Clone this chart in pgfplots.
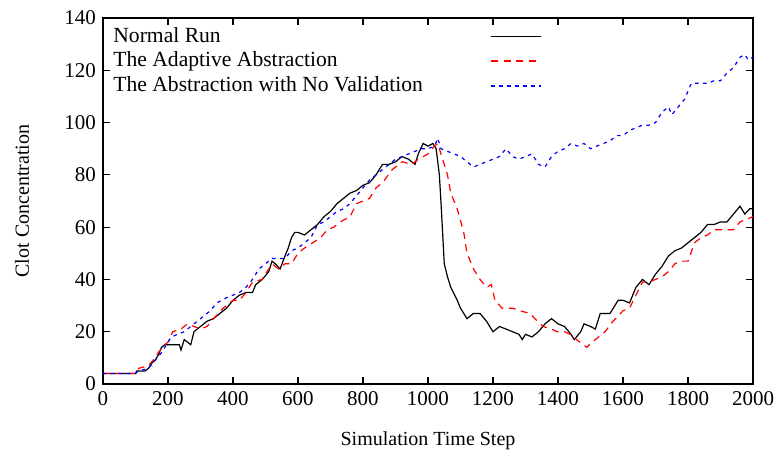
\documentclass[border=0pt]{standalone}
\usepackage{pgfplots}
\pgfplotsset{compat=1.18}
\usepackage{fontspec}
\setmainfont{Liberation Serif}
\definecolor{gpred}{RGB}{255,0,0}
\definecolor{gpblue}{RGB}{0,0,255}
\begin{document}
\begin{tikzpicture}
\path[use as bounding box] (-51.5pt,-37pt) rectangle (337.5pt,192pt);
\begin{axis}[
  scale only axis,
  width=325pt, height=183pt,
  at={(0pt,0pt)}, anchor=south west,
  xmin=0, xmax=2000, ymin=0, ymax=140,
  xtick={0,200,...,2000}, ytick={0,20,...,140},
  tick align=inside, major tick length=3.5pt,
  axis line style={line width=0.8pt},
  every tick/.style={black, line width=0.6pt},
  /pgf/number format/assume math mode=true,
  /pgf/number format/1000 sep={},
  tick label style={font=\fontsize{10.5}{12}\selectfont},
  xlabel={Simulation Time Step}, ylabel={Clot Concentration},
  label style={font=\fontsize{10.5}{12}\selectfont},
  every axis x label/.style={at={(axis description cs:0.5,-0.156)}, anchor=center},
  every axis y label/.style={at={(axis description cs:-0.1246,0.5)}, rotate=90, anchor=center},
  legend plot pos=right,
  legend cell align=left,
  legend style={at={(rel axis cs:0,1)}, anchor=north west, xshift=5pt, yshift=-3.5pt,
    draw=none, fill=none, inner sep=0pt, column sep=0pt, row sep=0.25pt,
    font=\fontsize{10.8}{13}\selectfont,
    nodes={inner xsep=0pt, inner ysep=1pt, text height=7.5pt, text depth=2.5pt}},
  legend image code/.code={\draw[#1] (0pt,0.25pt) -- (25pt,0.25pt);},
]
\addlegendimage{black, line width=0.6pt}
\addlegendentry{\makebox[188.5pt][l]{Normal Run}}
\addlegendimage{gpred, line width=1.1pt, dash pattern=on 3.5pt off 2.75pt}
\addlegendentry{\makebox[188.5pt][l]{The Adaptive Abstraction}}
\addlegendimage{gpblue, line width=0.7pt, dash pattern=on 1.75pt off 2.25pt}
\addlegendentry{\makebox[188.5pt][l]{The Abstraction with No Validation}}
\addplot[forget plot, black, line width=0.6pt] coordinates {
(0,4) (100,4) (104,5) (130,5) (140,6) (150,8) (160,9) (170,11) (180,14) (190,15)
(200,15) (220,15) (235,15) (240,13) (250,17) (260,16) (270,15) (280,20) (290,21) (300,22)
(320,24) (340,25) (360,27) (380,29) (400,32) (420,34) (440,35) (460,35) (470,38) (490,40)
(510,43) (520,47) (530,46) (545,44) (560,49) (570,52) (580,56) (590,58) (600,58) (620,57)
(640,59) (660,61) (680,64) (700,66) (720,69) (740,71) (760,73) (780,74) (800,76) (820,77)
(840,80) (860,84) (880,84) (900,85) (920,87) (940,86) (960,84) (970,88) (985,92) (1000,91)
(1015,92) (1025,90) (1035,80) (1042,65) (1050,46) (1060,41) (1070,37) (1090,32) (1100,29) (1120,25)
(1140,27) (1160,27) (1180,24) (1200,20) (1220,22) (1240,21) (1260,20) (1280,19) (1290,17) (1300,19)
(1320,18) (1340,20) (1360,23) (1380,25) (1400,23) (1420,22) (1440,19) (1450,17) (1470,20) (1480,23)
(1500,22) (1515,21) (1530,27) (1560,27) (1585,32) (1600,32) (1620,31) (1640,37) (1660,40) (1680,38)
(1700,42) (1720,45) (1740,49) (1760,51) (1780,52) (1800,54) (1820,56) (1840,58) (1860,61) (1880,61)
(1900,62) (1920,62) (1940,65) (1960,68) (1975,65) (1990,67) (2000,67)
};
\addplot[forget plot, gpred, line width=0.6pt, dash pattern=on 3.5pt off 2.75pt] coordinates {
(0,4) (100,4) (110,6) (140,7) (160,10) (170,12) (190,15) (200,16) (215,20) (240,21)
(260,23) (280,22) (300,21) (320,22) (340,25) (370,29) (400,32) (420,32) (440,35) (460,39)
(490,40) (520,46) (540,44) (560,46) (580,46) (600,50) (620,52) (645,54) (670,56) (690,59)
(710,60) (730,62) (760,64) (780,69) (800,70) (820,71) (840,75) (860,77) (890,82) (920,85)
(950,84) (970,86) (1000,88) (1020,91) (1030,92) (1045,86) (1060,80) (1070,73) (1090,67) (1110,58)
(1120,50) (1140,44) (1160,40) (1180,37) (1195,38) (1206,32) (1228,29) (1260,29) (1283,28) (1314,27)
(1329,25) (1354,22) (1380,21) (1397,20) (1420,20) (1437,19) (1462,16.5) (1489,14) (1505,16) (1520,17.5)
(1545,20) (1569,24) (1585,26) (1600,28) (1620,29) (1640,34) (1660,39) (1680,39) (1700,40) (1720,41)
(1740,43) (1760,46) (1780,47) (1800,47) (1820,54) (1840,56) (1860,57) (1880,59) (1900,59) (1920,59)
(1940,59) (1960,62) (1980,63) (2000,64)
};
\addplot[forget plot, gpblue, line width=0.6pt, dash pattern=on 1.75pt off 2.25pt] coordinates {
(0,4) (100,4) (110,5) (140,6) (160,9) (180,12) (200,16) (210,18) (230,19) (250,20)
(270,22) (290,24) (310,26) (330,28) (350,31) (380,33) (400,34) (420,35) (440,37) (460,40)
(480,44) (500,46) (520,48) (540,48) (560,48) (580,51) (600,52) (620,54) (640,56) (660,61)
(680,62) (700,64) (720,66) (740,67) (760,69) (780,72) (800,75) (820,78) (840,80) (860,82)
(880,84) (900,86) (920,87) (940,88) (960,89) (980,90) (1000,90) (1020,91) (1030,94) (1040,90)
(1060,89) (1080,88) (1100,87) (1120,85) (1140,83) (1160,84) (1180,85) (1200,86) (1220,87) (1240,90)
(1260,87) (1280,86) (1300,87) (1320,88) (1340,84) (1360,83) (1380,87) (1400,89) (1420,90) (1440,92)
(1460,91) (1480,92) (1500,90) (1520,91) (1540,92) (1560,93) (1580,95) (1600,95) (1620,97) (1640,98)
(1660,99) (1680,99) (1700,100) (1720,104) (1740,106) (1750,103) (1770,106) (1790,109) (1810,115) (1830,115)
(1860,115) (1880,116) (1900,116) (1920,119) (1940,121) (1960,125) (1975,126) (1985,124) (2000,125)
};
\end{axis}
\end{tikzpicture}
\end{document}
